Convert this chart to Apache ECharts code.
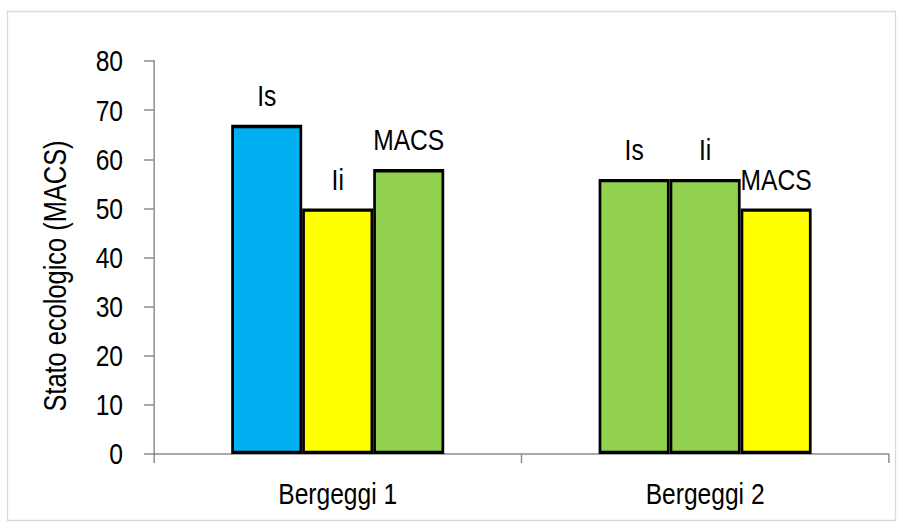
<!DOCTYPE html>
<html>
<head>
<meta charset="utf-8">
<script src="https://cdn.jsdelivr.net/npm/echarts@6/dist/echarts.min.js"></script>
<style>
  html, body { margin: 0; padding: 0; background: #ffffff; overflow: hidden; }
  #frame { width: 903px; height: 530px; overflow: hidden; position: relative; }
  /* The chart is laid out wider and squeezed horizontally, which gives the
     lettering a condensed (Arial Narrow-like) look. */
  #chart { width: 1101.22px; height: 530px; transform: scaleX(0.82); transform-origin: 0 0; }
</style>
</head>
<body>
<div id="frame"><div id="chart"></div></div>
<script>
// Sites and ecological-status scores (MACS scale)
const categories = ['Bergeggi 1', 'Bergeggi 2'];
const seriesNames = ['Is', 'Ii', 'MACS'];
const isValues = [67, 56];
const iiValues = [50, 56];
const macsValues = [58, 50];
// Status class of each score
const isStatus = ['elevato', 'buono'];
const iiStatus = ['sufficiente', 'buono'];
const macsStatus = ['buono', 'sufficiente'];
const yTicks = [0, 10, 20, 30, 40, 50, 60, 70, 80];
const yAxisTitle = 'Stato ecologico (MACS)';

const statusColor = {
  elevato: '#00B0F0',
  buono: '#92D050',
  sufficiente: '#FFFF00'
};

const SQUEEZE = 0.82;               // horizontal scale applied to #chart
const sx = v => v / SQUEEZE;        // screen px -> chart px (horizontal)
const font = "'Liberation Sans', Arial, sans-serif";
const axisColor = '#8c8c8c';

function makeSeries(name, values, status) {
  return {
    name: name,
    type: 'bar',
    barWidth: sx(71),
    barGap: '0%',
    data: values.map((v, i) => ({
      value: v,
      itemStyle: { color: statusColor[status[i]] }
    })),
    itemStyle: { borderColor: '#000000', borderWidth: 3.3 },
    label: {
      show: true,
      position: 'top',
      distance: 14,
      formatter: '{a}',
      color: '#000000',
      fontFamily: font,
      fontSize: 30
    }
  };
}

const chart = echarts.init(document.getElementById('chart'), null, { renderer: 'svg' });
chart.setOption({
  animation: false,
  backgroundColor: '#ffffff',
  graphic: [
    {
      type: 'rect',
      shape: { x: sx(7.5), y: 11.5, width: sx(888), height: 509 },
      style: { fill: 'none', stroke: '#d9d9d9', lineWidth: 1.6 },
      silent: true,
      z: -10
    },
    {
      // y-axis title, rotated; scaled so the glyphs keep the condensed proportions
      type: 'text',
      x: sx(55),
      y: 276,
      rotation: Math.PI / 2,
      scaleX: SQUEEZE,
      scaleY: 1 / SQUEEZE,
      style: {
        text: yAxisTitle,
        fill: '#000000',
        font: '31px ' + font,
        textAlign: 'center',
        textVerticalAlign: 'middle'
      },
      silent: true
    }
  ],
  grid: { left: sx(154), right: sx(14), top: 61, bottom: 76 },
  xAxis: {
    type: 'category',
    data: categories,
    axisLine: { lineStyle: { color: axisColor, width: 1.5 } },
    axisTick: { show: true, length: 9, lineStyle: { color: axisColor, width: 1.8 } },
    axisLabel: {
      margin: 25,
      color: '#000000',
      fontFamily: font,
      fontSize: 30
    }
  },
  yAxis: {
    type: 'value',
    min: yTicks[0],
    max: yTicks[yTicks.length - 1],
    interval: yTicks[1] - yTicks[0],
    axisLine: { show: true, lineStyle: { color: axisColor, width: 1.8 } },
    axisTick: { show: true, length: sx(10), lineStyle: { color: axisColor, width: 1.5 } },
    splitLine: { show: false },
    axisLabel: {
      margin: sx(31),
      color: '#000000',
      fontFamily: font,
      fontSize: 30
    }
  },
  series: [
    makeSeries(seriesNames[0], isValues, isStatus),
    makeSeries(seriesNames[1], iiValues, iiStatus),
    makeSeries(seriesNames[2], macsValues, macsStatus)
  ]
});
</script>
</body>
</html>
